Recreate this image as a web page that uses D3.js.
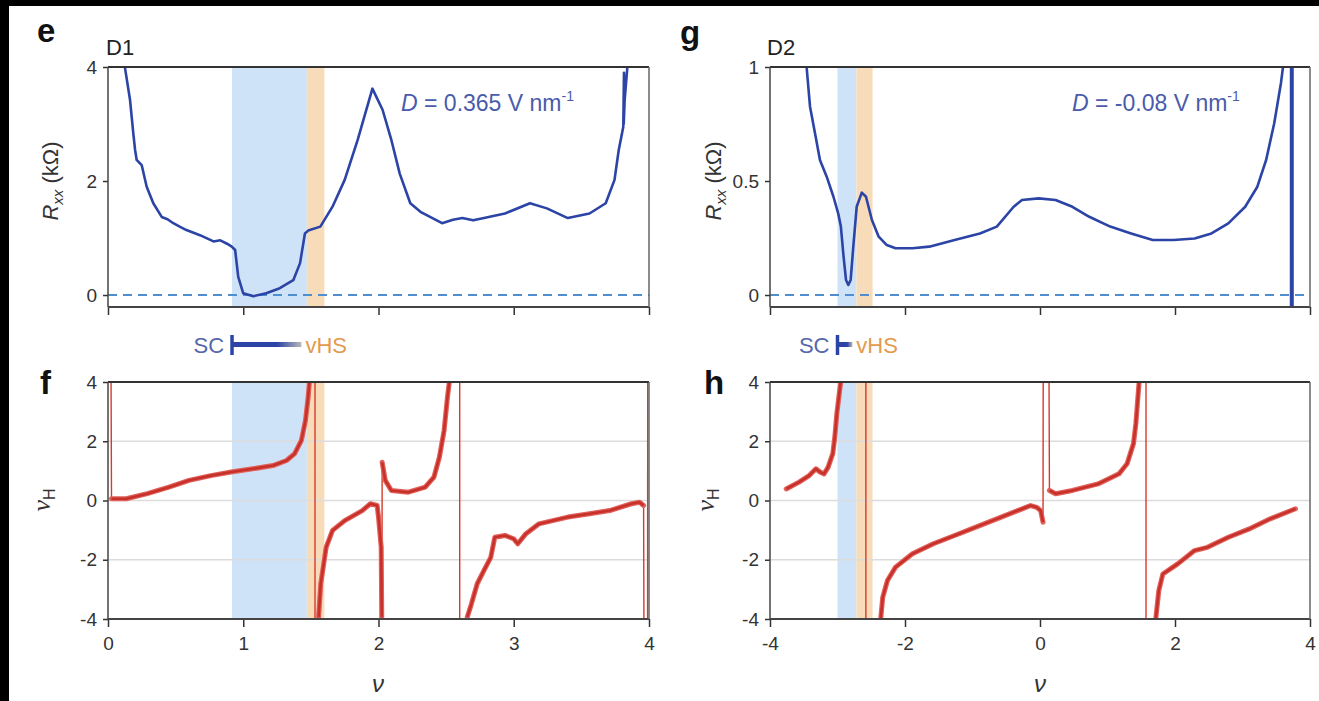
<!DOCTYPE html>
<html>
<head>
<meta charset="utf-8">
<script src="https://cdn.jsdelivr.net/npm/d3@7"></script>
<style>
  body { margin: 0; background: #000; }
  text { font-family: "Liberation Sans", Arial, sans-serif; }
</style>
</head>
<body>
<div id="chart"></div>
<script>
var svgWidth = 1319;
var svgHeight = 701;

// ---- data ----
// panel e: D1, Rxx (kOhm) vs filling nu
var eNu = [0.08, 0.126, 0.163, 0.187, 0.2, 0.212, 0.249, 0.286, 0.335, 0.397, 0.44, 0.483, 0.53, 0.58, 0.68, 0.78, 0.83, 0.88, 0.915, 0.94, 0.963, 1.0, 1.075, 1.17, 1.27, 1.37, 1.42, 1.456, 1.48, 1.57, 1.66, 1.75, 1.846, 1.955, 2.03, 2.095, 2.157, 2.235, 2.31, 2.47, 2.55, 2.62, 2.7, 2.78, 2.935, 3.12, 3.245, 3.4, 3.56, 3.68, 3.745, 3.776, 3.81, 3.815, 3.813, 3.82, 3.84, 3.86];
var eR = [4.6, 3.98, 3.42, 2.84, 2.55, 2.37, 2.28, 1.90, 1.61, 1.37, 1.33, 1.26, 1.2, 1.14, 1.05, 0.94, 0.96, 0.9, 0.85, 0.79, 0.32, 0.03, -0.02, 0.03, 0.12, 0.26, 0.56, 1.08, 1.13, 1.2, 1.55, 2.02, 2.72, 3.62, 3.25, 2.72, 2.13, 1.61, 1.46, 1.26, 1.32, 1.35, 1.31, 1.35, 1.43, 1.61, 1.52, 1.35, 1.43, 1.61, 2.02, 2.54, 2.95, 3.9, 3.0, 3.42, 4.0, 4.6];

// panel g: D2, Rxx (kOhm) vs filling nu
var gNu = [-3.48, -3.456, -3.407, -3.333, -3.26, -3.16, -3.06, -2.99, -2.95, -2.91, -2.874, -2.84, -2.805, -2.77, -2.716, -2.64, -2.578, -2.49, -2.39, -2.27, -2.14, -1.89, -1.64, -1.265, -0.89, -0.64, -0.39, -0.267, -0.02, 0.23, 0.48, 0.73, 1.04, 1.35, 1.67, 1.98, 2.29, 2.54, 2.79, 3.04, 3.22, 3.35, 3.47, 3.57, 3.6, 3.65, 3.725, 3.73];
var gR = [1.1, 0.994, 0.826, 0.709, 0.592, 0.519, 0.431, 0.358, 0.30, 0.168, 0.066, 0.044, 0.066, 0.197, 0.387, 0.449, 0.431, 0.329, 0.256, 0.219, 0.205, 0.205, 0.212, 0.241, 0.27, 0.30, 0.387, 0.417, 0.424, 0.417, 0.387, 0.343, 0.30, 0.27, 0.241, 0.241, 0.248, 0.27, 0.314, 0.387, 0.475, 0.592, 0.753, 0.93, 1.0, 1.3, 5, -0.3];

// panel f: D1, Hall density nuH vs nu
var fNu = [0.0, 0.026, 0.135, 0.29, 0.45, 0.60, 0.76, 0.91, 1.07, 1.22, 1.32, 1.38, 1.43, 1.46, 1.48, 1.49, 1.50, 1.53, 1.531, 1.555, 1.557, 1.573, 1.613, 1.66, 1.75, 1.88, 1.94, 1.99, 2.0, 2.02, 2.024, 2.025, 2.027, 2.05, 2.095, 2.22, 2.345, 2.41, 2.45, 2.485, 2.51, 2.525, 2.54, 2.60, 2.601, 2.65, 2.656, 2.687, 2.73, 2.78, 2.83, 2.86, 2.935, 2.998, 3.03, 3.09, 3.185, 3.40, 3.56, 3.71, 3.87, 3.93, 3.96, 3.985, 3.995];
var fNuH = [30, 0.06, 0.06, 0.23, 0.45, 0.68, 0.84, 0.96, 1.07, 1.18, 1.35, 1.58, 2.03, 2.70, 3.49, 4.05, 8, 60, -60, -6, -3.94, -2.81, -1.58, -1.01, -0.68, -0.34, -0.11, -0.17, -0.56, -1.58, -3.94, -6, 1.29, 0.68, 0.34, 0.28, 0.45, 0.79, 1.46, 2.36, 3.49, 4.05, 8, 60, -60, -6, -3.94, -3.49, -2.81, -2.36, -1.92, -1.24, -1.18, -1.29, -1.46, -1.12, -0.79, -0.56, -0.45, -0.34, -0.11, -0.06, -0.17, -40, 40];

// panel h: D2, Hall density nuH vs nu
var hNu = [-3.76, -3.57, -3.42, -3.32, -3.26, -3.2, -3.14, -3.07, -3.04, -3.01, -2.98, -2.95, -2.93, -2.58, -2.579, -2.37, -2.36, -2.33, -2.26, -2.14, -1.89, -1.58, -1.265, -0.95, -0.64, -0.33, -0.14, -0.05, 0.01, 0.045, 0.06, 0.09, 0.14, 0.23, 0.48, 0.86, 1.17, 1.29, 1.385, 1.42, 1.47, 1.49, 1.57, 1.571, 1.70, 1.715, 1.76, 1.82, 2.04, 2.29, 2.48, 2.79, 3.1, 3.41, 3.785];
var hNuH = [0.39, 0.62, 0.84, 1.07, 0.96, 0.9, 1.12, 1.58, 2.14, 2.93, 3.49, 4.05, 8, 60, -60, -5, -4.0, -3.27, -2.70, -2.25, -1.80, -1.46, -1.18, -0.90, -0.62, -0.34, -0.17, -0.23, -0.34, -0.73, 30, 30, 0.34, 0.23, 0.34, 0.56, 0.90, 1.24, 1.92, 2.59, 4.05, 8, 60, -60, -6, -4.0, -3.04, -2.48, -2.14, -1.69, -1.58, -1.24, -0.96, -0.62, -0.28];

// shaded regions [start, end] in nu
var d1ScBand = [0.917, 1.47];
var d1VhsBand = [1.47, 1.6];
var d2ScBand = [-3.0, -2.72];
var d2VhsBand = [-2.72, -2.48];
var d2SpikeNu = 3.73;

// ticks
var d1XTicks = [0, 1, 2, 3, 4];
var d2XTicks = [-4, -2, 0, 2, 4];
var eYTicks = [0, 2, 4];
var gYTicks = [0, 0.5, 1];
var hallYTicks = [-4, -2, 0, 2, 4];
var hallGrid = [-2, 0, 2];

var blueLine = "#2b44a6";
var redLine = "#d63a2c";
var scFill = "#cfe3f8";
var vhsFill = "#f8dcba";

var svg = d3.select("#chart")
  .append("svg")
  .attr("width", svgWidth)
  .attr("height", svgHeight);

// black backdrop and the white page
svg.append("rect").attr("width", svgWidth).attr("height", svgHeight).attr("fill", "#000");
svg.append("rect").attr("x", 9).attr("y", 6).attr("width", svgWidth - 9).attr("height", svgHeight - 6).attr("fill", "#fff");

var defs = svg.append("defs");
var grad = defs.append("linearGradient").attr("id", "scgrad");
grad.append("stop").attr("offset", "0%").attr("stop-color", blueLine);
grad.append("stop").attr("offset", "65%").attr("stop-color", blueLine);
grad.append("stop").attr("offset", "100%").attr("stop-color", "#b8b8b8");

// panel geometry
var d1X = d3.scaleLinear().domain([0, 4]).range([108, 649]);
var d2X = d3.scaleLinear().domain([-4, 4]).range([770, 1310]);
var eY = d3.scaleLinear().domain([-0.21, 4]).range([307, 67]);
var gY = d3.scaleLinear().domain([-0.0526, 1]).range([307, 67]);
var fY = d3.scaleLinear().domain([-4, 4]).range([619, 382]);
var hY = d3.scaleLinear().domain([-4, 4]).range([619, 382]);

function makeClip(id, x, y) {
  defs.append("clipPath").attr("id", id)
    .append("rect")
    .attr("x", x.range()[0]).attr("y", y.range()[1])
    .attr("width", x.range()[1] - x.range()[0])
    .attr("height", y.range()[0] - y.range()[1]);
}

function drawBands(x, y, sc, vhs) {
  svg.append("rect")
    .attr("x", x(sc[0])).attr("y", y.range()[1])
    .attr("width", x(sc[1]) - x(sc[0]))
    .attr("height", y.range()[0] - y.range()[1])
    .attr("fill", scFill);
  svg.append("rect")
    .attr("x", x(vhs[0])).attr("y", y.range()[1])
    .attr("width", x(vhs[1]) - x(vhs[0]))
    .attr("height", y.range()[0] - y.range()[1])
    .attr("fill", vhsFill);
}

function drawFrame(x, y, xTicks, yTicks, showXLabels, yFmt) {
  var x0 = x.range()[0], x1 = x.range()[1];
  var yb = y.range()[0], yt = y.range()[1];

  var bottomAxis = d3.axisBottom(x).tickValues(xTicks).tickSize(8)
    .tickFormat(showXLabels ? (d => String(d)) : "");
  var ax = svg.append("g")
    .attr("transform", `translate(0, ${yb})`)
    .call(bottomAxis);
  ax.select(".domain").remove();
  ax.selectAll("line").attr("stroke", "#333").attr("stroke-width", 1.5);
  ax.selectAll("text").attr("font-size", 19).attr("fill", "#333").attr("dy", "1.05em")
    .attr("font-family", "Liberation Sans, Arial, sans-serif");

  var leftAxis = d3.axisLeft(y).tickValues(yTicks).tickSize(5).tickPadding(6)
    .tickFormat(yFmt);
  var ay = svg.append("g")
    .attr("transform", `translate(${x0}, 0)`)
    .call(leftAxis);
  ay.select(".domain").remove();
  ay.selectAll("line").attr("stroke", "#333").attr("stroke-width", 1.5);
  ay.selectAll("text").attr("font-size", 19).attr("fill", "#333")
    .attr("font-family", "Liberation Sans, Arial, sans-serif");

  // box
  svg.append("line").attr("x1", x0).attr("x2", x1).attr("y1", yt).attr("y2", yt)
    .attr("stroke", "#333").attr("stroke-width", 2.2);
  svg.append("line").attr("x1", x0).attr("x2", x1).attr("y1", yb).attr("y2", yb)
    .attr("stroke", "#444").attr("stroke-width", 2);
  svg.append("line").attr("x1", x0).attr("x2", x0).attr("y1", yt).attr("y2", yb)
    .attr("stroke", "#444").attr("stroke-width", 1.5);
  svg.append("line").attr("x1", x1).attr("x2", x1).attr("y1", yt).attr("y2", yb)
    .attr("stroke", "#666").attr("stroke-width", 1.5);
}

function drawZeroLine(x, y) {
  svg.append("line")
    .attr("x1", x.range()[0]).attr("x2", x.range()[1])
    .attr("y1", y(0)).attr("y2", y(0))
    .attr("stroke", "#4f8fd0").attr("stroke-width", 2)
    .attr("stroke-dasharray", "9,6");
}

function drawRxx(x, y, xs, ys, clipId) {
  var pts = xs.map((v, i) => [v, ys[i]]);
  var line = d3.line().x(d => x(d[0])).y(d => y(d[1]));
  svg.append("path")
    .datum(pts)
    .attr("clip-path", `url(#${clipId})`)
    .attr("d", line)
    .attr("fill", "none")
    .attr("stroke", blueLine)
    .attr("stroke-width", 2.6)
    .attr("stroke-linejoin", "round");
}

function drawHall(x, y, xs, ys, clipId) {
  var pts = xs.map((v, i) => [v, ys[i]]);
  var thin = d3.line().x(d => x(d[0])).y(d => y(d[1]));
  var thick = d3.line().defined(d => Math.abs(d[1]) <= 4.1)
    .x(d => x(d[0])).y(d => y(d[1]));
  svg.append("path").datum(pts)
    .attr("clip-path", `url(#${clipId})`)
    .attr("d", thin)
    .attr("fill", "none").attr("stroke", redLine).attr("stroke-width", 1.4);
  svg.append("path").datum(pts)
    .attr("clip-path", `url(#${clipId})`)
    .attr("d", thick)
    .attr("fill", "none").attr("stroke", "#e0605a").attr("stroke-width", 5)
    .attr("stroke-linejoin", "round").attr("stroke-linecap", "round");
  svg.append("path").datum(pts)
    .attr("clip-path", `url(#${clipId})`)
    .attr("d", thick)
    .attr("fill", "none").attr("stroke", "#c8302a").attr("stroke-width", 2.6)
    .attr("stroke-linejoin", "round");
}

function drawGrid(x, y) {
  svg.append("g").selectAll("line")
    .data(hallGrid)
    .enter()
    .append("line")
    .attr("x1", x.range()[0]).attr("x2", x.range()[1])
    .attr("y1", d => y(d)).attr("y2", d => y(d))
    .attr("stroke", "#dcdcdc").attr("stroke-width", 1.5);
}

makeClip("clipE", d1X, eY);
makeClip("clipF", d1X, fY);
makeClip("clipG", d2X, gY);
makeClip("clipH", d2X, hY);

// panel e
drawBands(d1X, eY, d1ScBand, d1VhsBand);
drawZeroLine(d1X, eY);
drawRxx(d1X, eY, eNu, eR, "clipE");
drawFrame(d1X, eY, d1XTicks, eYTicks, false, d => String(d));

// panel g
drawBands(d2X, gY, d2ScBand, d2VhsBand);
drawZeroLine(d2X, gY);
drawRxx(d2X, gY, gNu, gR, "clipG");
svg.append("line")
  .attr("x1", d2X(d2SpikeNu)).attr("x2", d2X(d2SpikeNu))
  .attr("y1", gY.range()[1]).attr("y2", gY.range()[0])
  .attr("stroke", blueLine).attr("stroke-width", 4);
drawFrame(d2X, gY, d2XTicks, gYTicks, false, d => String(d));

// panel f
drawBands(d1X, fY, d1ScBand, d1VhsBand);
drawGrid(d1X, fY);
drawHall(d1X, fY, fNu, fNuH, "clipF");
drawFrame(d1X, fY, d1XTicks, hallYTicks, true, d => String(d));

// panel h
drawBands(d2X, hY, d2ScBand, d2VhsBand);
drawGrid(d2X, hY);
drawHall(d2X, hY, hNu, hNuH, "clipH");
drawFrame(d2X, hY, d2XTicks, hallYTicks, true, d => String(d));

// panel letters and device names
var letters = [["e", 37, 42], ["g", 680, 44], ["f", 40, 394], ["h", 704, 394]];
svg.selectAll(".letter")
  .data(letters)
  .enter()
  .append("text")
  .attr("x", d => d[1])
  .attr("y", d => d[2])
  .attr("font-size", 33)
  .attr("font-weight", "bold")
  .attr("fill", "#111")
  .text(d => d[0]);

svg.append("text").attr("x", 106).attr("y", 55).attr("font-size", 22).attr("fill", "#222").text("D1");
svg.append("text").attr("x", 767).attr("y", 55).attr("font-size", 22).attr("fill", "#222").text("D2");

// D field annotations
function annot(xPos, value) {
  var t = svg.append("text").attr("x", xPos).attr("y", 111)
    .attr("font-size", 23).attr("fill", "#4a5bab");
  t.append("tspan").attr("font-style", "italic").text("D");
  t.append("tspan").text(" = " + value + " V nm");
  t.append("tspan").attr("dy", -10).attr("font-size", 14).text("-1");
}
annot(401, "0.365");
annot(1072, "-0.08");

// y-axis titles
function rxxTitle(xPos) {
  var t = svg.append("text")
    .attr("transform", `translate(${xPos}, 181) rotate(-90)`)
    .attr("text-anchor", "middle")
    .attr("font-size", 22).attr("fill", "#333");
  t.append("tspan").attr("font-style", "italic").text("R");
  t.append("tspan").attr("font-style", "italic").attr("font-size", 15).attr("dy", 5).text("xx");
  t.append("tspan").attr("dy", -5).text(" (k\u03a9)");
}
rxxTitle(58);
rxxTitle(721);

function hallTitle(xPos) {
  var t = svg.append("text")
    .attr("transform", `translate(${xPos}, 500) rotate(-90)`)
    .attr("text-anchor", "middle")
    .attr("font-size", 26).attr("fill", "#333");
  t.append("tspan").attr("font-family", "Liberation Serif, serif").attr("font-style", "italic").text("\u03bd");
  t.append("tspan").attr("font-size", 16).attr("dy", 5).text("H");
}
hallTitle(50);
hallTitle(714);

// x-axis titles
[[d1X, 378], [d2X, 1040]].forEach(function(p) {
  svg.append("text").attr("x", p[1]).attr("y", 692)
    .attr("text-anchor", "middle")
    .attr("font-family", "Liberation Serif, serif")
    .attr("font-style", "italic")
    .attr("font-size", 24).attr("fill", "#333")
    .text("\u03bd");
});

// SC -> vHS markers
function scMarker(x, sc, vhs) {
  var xs = x(sc[0]), xe = x(vhs[0]);
  svg.append("text").attr("x", xs - 8).attr("y", 353).attr("text-anchor", "end")
    .attr("font-size", 22).attr("fill", "#5667ab").text("SC");
  svg.append("line").attr("x1", xs).attr("x2", xs).attr("y1", 335).attr("y2", 355)
    .attr("stroke", blueLine).attr("stroke-width", 3.5);
  svg.append("rect").attr("x", xs).attr("y", 342).attr("width", xe - xs).attr("height", 5)
    .attr("fill", "url(#scgrad)");
  svg.append("text").attr("x", xe + 4).attr("y", 353)
    .attr("font-size", 22).attr("fill", "#e39a4f").text("vHS");
}
scMarker(d1X, d1ScBand, [1.43]);
scMarker(d2X, d2ScBand, [-2.78]);
</script>
</body>
</html>
